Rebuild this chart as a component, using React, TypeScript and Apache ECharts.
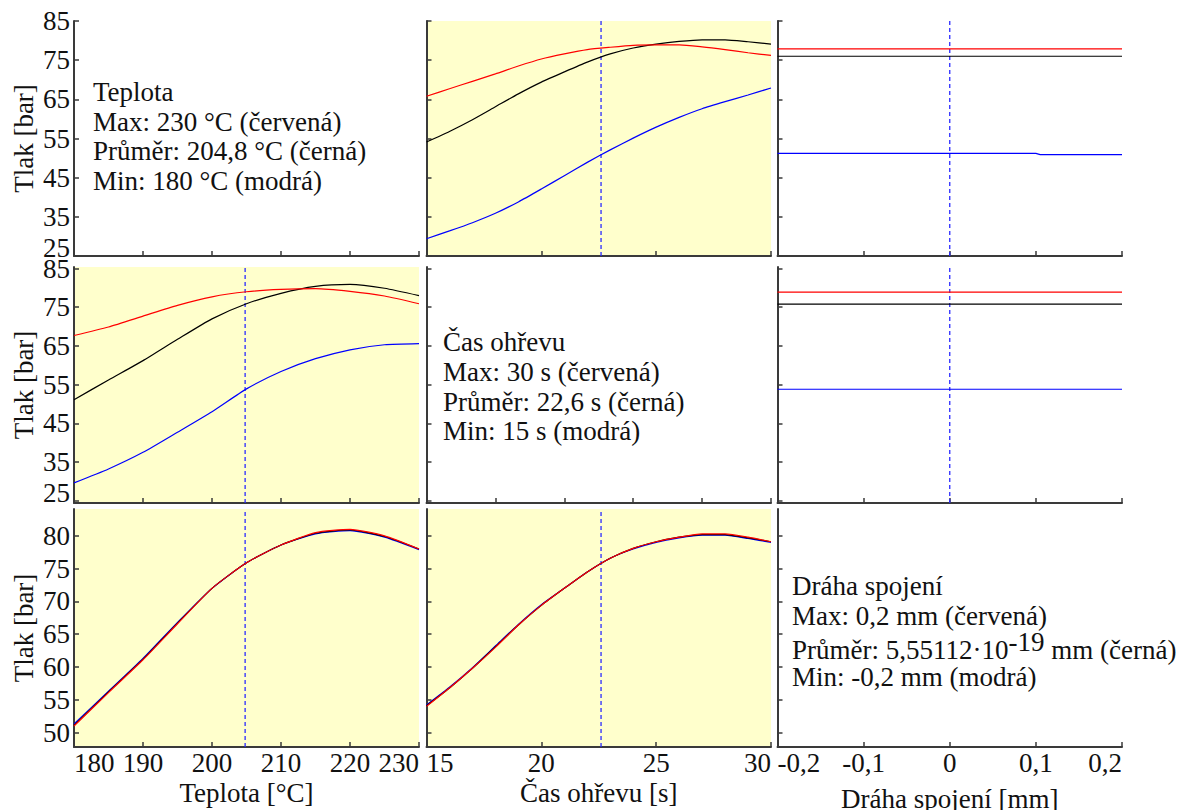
import { useEffect, useRef } from "react";
import * as echarts from "echarts";

const FONT = "Liberation Serif, Times New Roman, serif";
const FONT_SIZE = 27;
const TEXT_FONT = `${FONT_SIZE}px ${FONT}`;
const TEXT_COLOR = "#111111";
const AXIS_COLOR = "#3a3a3a";
const PANEL_YELLOW = "#FFFFCC";

const RED = "#ff0000";
const BLACK = "#000000";
const BLUE = "#0000ff";
const DASH_BLUE = "#2a2aff";

// Factor settings on the horizontal axes
const teplota = [180, 185, 190, 195, 200, 205, 210, 215, 220, 225, 230];
const casOhrevu = [15, 16, 17, 18, 19, 20, 21, 22, 23, 24, 25, 26, 27, 28, 29, 30];
const drahaSpojeni = [-0.2, -0.1, 0, 0.1, 0.2];
const drahaSpojeniJemne = [-0.2, -0.1, 0, 0.1, 0.105, 0.2];

// Current (mean) settings shown as dashed verticals
const prumerTeplota = 204.8;
const prumerCas = 22.6;
const prumerDraha = 5.55112e-19;

// Tick values
const tlakTicksHorni = [25, 35, 45, 55, 65, 75, 85];
const tlakTicksDolni = [50, 55, 60, 65, 70, 75, 80];

// Tlak vs. čas ohřevu for teplota 230 / 204,8 / 180 °C
const casTeplotaMax = [65.8, 67.7, 69.6, 71.5, 73.5, 75.3, 76.6, 77.7, 78.3, 78.8, 78.9, 78.9, 78.4, 77.7, 76.9, 76.2];
const casTeplotaPrumer = [54.1, 56.8, 59.8, 63.1, 66.4, 69.4, 72.0, 74.5, 76.6, 78.1, 79.1, 79.8, 80.2, 80.2, 79.7, 79.1];
const casTeplotaMin = [29.4, 31.4, 33.5, 35.9, 38.8, 42.1, 45.5, 48.9, 52.1, 55.1, 57.9, 60.4, 62.6, 64.4, 66.1, 67.9];

// Tlak vs. dráha spojení for teplota 230 / 204,8 / 180 °C
const drahaTeplotaMax = [77.9, 77.9, 77.9, 77.9, 77.9];
const drahaTeplotaPrumer = [76.0, 76.0, 76.0, 76.0, 76.0];
const drahaTeplotaMin = [51.2, 51.2, 51.2, 51.2, 50.9, 50.9];

// Tlak vs. teplota for čas ohřevu 30 / 22,6 / 15 s
const teplotaCasMax = [67.7, 69.9, 72.7, 75.5, 77.7, 79.0, 79.6, 79.8, 79.1, 77.9, 75.9];
const teplotaCasPrumer = [51.1, 56.2, 61.2, 66.7, 72.0, 75.9, 78.6, 80.4, 80.9, 79.9, 78.0];
const teplotaCasMin = [29.6, 33.2, 37.5, 42.7, 48.0, 53.9, 58.4, 61.7, 64.0, 65.3, 65.6];

// Tlak vs. dráha spojení for čas ohřevu 30 / 22,6 / 15 s
const drahaCasMax = [78.9, 78.9, 78.9, 78.9, 78.9];
const drahaCasPrumer = [75.8, 75.8, 75.8, 75.8, 75.8];
const drahaCasMin = [53.8, 53.8, 53.8, 53.8, 53.8];

// Tlak vs. teplota for dráha spojení 0,2 / 0 / -0,2 mm
const teplotaDrahaMax = [51.0, 56.1, 61.1, 66.6, 72.0, 75.9, 78.6, 80.5, 81.0, 80.0, 78.0];
const teplotaDrahaPrumer = [51.1, 56.2, 61.2, 66.7, 72.0, 75.9, 78.6, 80.4, 80.9, 79.9, 78.0];
const teplotaDrahaMin = [51.3, 56.3, 61.3, 66.8, 72.0, 75.9, 78.6, 80.3, 80.8, 79.8, 77.9];

// Tlak vs. čas ohřevu for dráha spojení 0,2 / 0 / -0,2 mm
const casDrahaMax = [54.0, 56.8, 59.8, 63.0, 66.4, 69.4, 72.0, 74.5, 76.6, 78.1, 79.1, 79.8, 80.3, 80.3, 79.8, 79.1];
const casDrahaPrumer = [54.1, 56.8, 59.8, 63.1, 66.4, 69.4, 72.0, 74.5, 76.6, 78.1, 79.1, 79.8, 80.2, 80.2, 79.7, 79.1];
const casDrahaMin = [54.2, 56.9, 59.9, 63.2, 66.5, 69.5, 72.0, 74.5, 76.6, 78.0, 79.0, 79.7, 80.1, 80.1, 79.6, 79.0];

// Panel layout (pixels)
const colLeft = [74, 426.5, 777.5];
const colWidth = [345, 344.5, 344.5];
const rowTop = [21, 267, 509];
const rowHeight = [235, 236, 238];
const rowRange: [number, number][] = [
  [25, 85],
  [24.4, 85.4],
  [47.8, 84.1],
];

const zip = (xs: number[], ys: number[]) => xs.map((x, i) => [x, ys[i]]);

const fmtDraha = (v: number) => {
  const r = Math.round(v * 10) / 10;
  if (r === 0) return "0";
  return r.toFixed(1).replace(".", ",");
};

export default function App() {
  const ref = useRef<HTMLDivElement>(null);

  useEffect(() => {
    if (!ref.current) return;
    const chart = echarts.init(ref.current, undefined, { renderer: "svg" });

    const yellow = new Set([1, 3, 6, 7]);
    const grids = [];
    for (let r = 0; r < 3; r++) {
      for (let c = 0; c < 3; c++) {
        const p = r * 3 + c;
        grids.push({
          left: colLeft[c],
          top: rowTop[r],
          width: colWidth[c],
          height: rowHeight[r],
          show: true,
          backgroundColor: yellow.has(p) ? PANEL_YELLOW : "#ffffff",
          borderWidth: 0,
          containLabel: false,
          outerBoundsMode: "none",
        });
      }
    }

    const axisLine = { show: true, onZero: false, lineStyle: { color: AXIS_COLOR, width: 2 } };
    const axisTickBase = { show: true, inside: true, length: 5, lineStyle: { color: AXIS_COLOR, width: 1.5 } };
    const labelStyle = { fontFamily: FONT, fontSize: FONT_SIZE, color: TEXT_COLOR };
    const nameStyle = { fontFamily: FONT, fontSize: FONT_SIZE, color: TEXT_COLOR };

    type XDef = { min: number; max: number; interval: number; name: string; fmt?: (v: number) => string; gap: number };
    const xTeplota: XDef = { min: 180, max: 230, interval: 10, name: "Teplota [°C]", gap: 32 };
    const xCas: XDef = { min: 15, max: 30, interval: 5, name: "Čas ohřevu [s]", gap: 32 };
    const xDraha: XDef = { min: -0.2, max: 0.2, interval: 0.1, name: "Dráha spojení [mm]", fmt: fmtDraha, gap: 38 };
    const xNeutral: XDef = { min: 0, max: 1, interval: 0.2, name: "", gap: 32 };

    const xDefs: XDef[] = [
      xTeplota, xCas, xDraha,
      xTeplota, xNeutral, xDraha,
      xTeplota, xCas, xDraha,
    ];

    const xAxes = xDefs.map((d, p) => {
      const bottom = p >= 6;
      return {
        type: "value",
        gridIndex: p,
        min: d.min,
        max: d.max,
        interval: d.interval,
        axisLine,
        axisTick: axisTickBase,
        splitLine: { show: false },
        axisLabel: {
          show: bottom,
          ...labelStyle,
          margin: 2,
          showMinLabel: true,
          showMaxLabel: true,
          alignMinLabel: "left",
          alignMaxLabel: "right",
          formatter: d.fmt ? d.fmt : (v: number) => String(v),
        },
        name: bottom ? d.name : "",
        nameLocation: "middle",
        nameGap: d.gap,
        nameMoveOverlap: false,
        nameTextStyle: nameStyle,
      };
    });

    const yAxes = [];
    for (let r = 0; r < 3; r++) {
      for (let c = 0; c < 3; c++) {
        const p = r * 3 + c;
        const ticks = r < 2 ? tlakTicksHorni : tlakTicksDolni;
        const lowest = r < 2 ? ticks[0] : null;
        yAxes.push({
          type: "value",
          gridIndex: p,
          min: rowRange[r][0],
          max: rowRange[r][1],
          axisLine,
          axisTick: { ...axisTickBase, customValues: ticks },
          splitLine: { show: false },
          axisLabel: {
            show: c === 0,
            customValues: ticks,
            ...labelStyle,
            margin: 4,
            // the lowest label sits just above its tick
            formatter: (v: number) => (v === lowest ? `{lo|${v}}` : String(v)),
            rich: {
              lo: { ...labelStyle, padding: [0, 0, 16, 0] },
            },
          },
          name: c === 0 ? "Tlak [bar]" : "",
          nameLocation: "middle",
          nameGap: 37,
          nameMoveOverlap: false,
          nameTextStyle: nameStyle,
        });
      }
    }

    const line = (p: number, xs: number[], ys: number[], color: string) => ({
      type: "line",
      xAxisIndex: p,
      yAxisIndex: p,
      data: zip(xs, ys),
      symbol: "none",
      silent: true,
      smooth: 0.2,
      color,
      lineStyle: { color, width: 1.2 },
    });

    // vertical dashed marker at the mean setting, spanning the panel's value range
    const dash = (p: number, x: number) => {
      const r = Math.floor(p / 3);
      return {
        type: "line",
        xAxisIndex: p,
        yAxisIndex: p,
        data: [
          [x, rowRange[r][0]],
          [x, rowRange[r][1]],
        ],
        symbol: "none",
        silent: true,
        z: 3,
        color: DASH_BLUE,
        lineStyle: { color: DASH_BLUE, width: 1.3, type: [4, 3] },
      };
    };

    const flat = (p: number, xs: number[], ys: number[], color: string) => ({
      ...line(p, xs, ys, color),
      smooth: false,
    });

    const series = [
      // row 1: teplota levels
      dash(1, prumerCas),
      line(1, casOhrevu, casTeplotaMin, BLUE),
      line(1, casOhrevu, casTeplotaPrumer, BLACK),
      line(1, casOhrevu, casTeplotaMax, RED),
      dash(2, prumerDraha),
      flat(2, drahaSpojeniJemne, drahaTeplotaMin, BLUE),
      flat(2, drahaSpojeni, drahaTeplotaPrumer, BLACK),
      flat(2, drahaSpojeni, drahaTeplotaMax, RED),
      // row 2: čas ohřevu levels
      dash(3, prumerTeplota),
      line(3, teplota, teplotaCasMin, BLUE),
      line(3, teplota, teplotaCasPrumer, BLACK),
      line(3, teplota, teplotaCasMax, RED),
      dash(5, prumerDraha),
      flat(5, drahaSpojeni, drahaCasMin, BLUE),
      flat(5, drahaSpojeni, drahaCasPrumer, BLACK),
      flat(5, drahaSpojeni, drahaCasMax, RED),
      // row 3: dráha spojení levels
      dash(6, prumerTeplota),
      line(6, teplota, teplotaDrahaMin, BLUE),
      line(6, teplota, teplotaDrahaPrumer, BLACK),
      line(6, teplota, teplotaDrahaMax, RED),
      dash(7, prumerCas),
      line(7, casOhrevu, casDrahaMin, BLUE),
      line(7, casOhrevu, casDrahaPrumer, BLACK),
      line(7, casOhrevu, casDrahaMax, RED),
    ];

    const txt = (x: number, y: number, text: string) => ({
      type: "text",
      x,
      y,
      silent: true,
      style: { text, font: TEXT_FONT, fill: TEXT_COLOR, align: "left", verticalAlign: "middle" },
    });

    const graphic = [
      txt(93, 92, "Teplota"),
      txt(93, 121.5, "Max: 230 °C (červená)"),
      txt(93, 151, "Průměr: 204,8 °C (černá)"),
      txt(93, 180.5, "Min: 180 °C (modrá)"),

      txt(443, 341.5, "Čas ohřevu"),
      txt(443, 371.5, "Max: 30 s (červená)"),
      txt(443, 401.5, "Průměr: 22,6 s (černá)"),
      txt(443, 431, "Min: 15 s (modrá)"),

      txt(792, 586, "Dráha spojení"),
      txt(792, 616, "Max: 0,2 mm (červená)"),
      {
        type: "text",
        x: 792,
        y: 628,
        silent: true,
        style: {
          text: "{n|Průměr: 5,55112·10}{s|-19}{n| mm (černá)}",
          font: TEXT_FONT,
          fill: TEXT_COLOR,
          align: "left",
          verticalAlign: "top",
          rich: {
            n: { font: TEXT_FONT, fill: TEXT_COLOR, verticalAlign: "bottom" },
            s: { font: TEXT_FONT, fill: TEXT_COLOR, verticalAlign: "top", padding: [0, 0, 8, 0] },
          },
        },
      },
      txt(792, 677, "Min: -0,2 mm (modrá)"),
    ];

    chart.setOption({
      animation: false,
      backgroundColor: "#ffffff",
      textStyle: { fontFamily: FONT },
      grid: grids,
      xAxis: xAxes,
      yAxis: yAxes,
      series,
      graphic,
    } as any);

    return () => chart.dispose();
  }, []);

  return (
    <div
      ref={ref}
      style={{ position: "fixed", left: 0, top: 0, width: 1184, height: 810, background: "#ffffff" }}
    />
  );
}
